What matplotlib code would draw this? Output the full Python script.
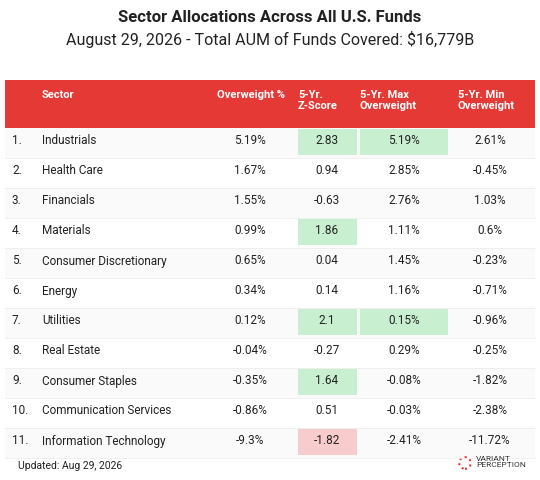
import matplotlib.pyplot as plt
from matplotlib.patches import Rectangle

sectors = ['Industrials', 'Health Care', 'Financials', 'Materials', 'Consumer Discretionary',
           'Energy', 'Utilities', 'Real Estate', 'Consumer Staples', 'Communication Services',
           'Information Technology']
overweight = ['5.19%', '1.67%', '1.55%', '0.99%', '0.65%', '0.34%', '0.12%', '-0.04%', '-0.35%', '-0.86%', '-9.3%']
zscore = ['2.83', '0.94', '-0.63', '1.86', '0.04', '0.14', '2.1', '-0.27', '1.64', '0.51', '-1.82']
max_ow = ['5.19%', '2.85%', '2.76%', '1.11%', '1.45%', '1.16%', '0.15%', '0.29%', '-0.08%', '-0.03%', '-2.41%']
min_ow = ['2.61%', '-0.45%', '1.03%', '0.6%', '-0.23%', '-0.71%', '-0.96%', '-0.25%', '-1.82%', '-2.38%', '-11.72%']
z_high = [0, 3, 6, 8]
z_low = [10]
max_high = [0, 6]

plt.rcParams['font.family'] = ['Roboto', 'DejaVu Sans']
fig = plt.figure(figsize=(5.4, 4.8), dpi=100)
ax = fig.add_axes([0, 0, 1, 1])
ax.set_xlim(0, 540)
ax.set_ylim(480, 0)
ax.axis('off')

ax.text(270, 18, 'Sector Allocations Across All U.S. Funds', ha='center', va='center',
        fontsize=12, fontweight='bold', color='#222222')
ax.text(270, 40, 'August 29, 2026 - Total AUM of Funds Covered: $16,779B', ha='center', va='center',
        fontsize=11.5, color='#222222')

red = '#e53935'
ax.add_patch(Rectangle((5, 80), 530, 48, color=red, lw=0))
hdr = dict(color='white', fontsize=8, fontweight='bold', va='top', linespacing=1.15)
ax.text(42, 90, 'Sector', **hdr)
ax.text(285, 90, 'Overweight %', ha='right', **hdr)
ax.text(298, 90, '5-Yr.\nZ-Score', **hdr)
ax.text(360, 90, '5-Yr. Max\nOverweight', **hdr)
ax.text(458, 90, '5-Yr. Min\nOverweight', **hdr)

top, rh = 128, 30
for i, s in enumerate(sectors):
    y0 = top + i * rh
    yc = y0 + rh / 2 - 2
    if i % 2 == 0:
        ax.add_patch(Rectangle((5, y0), 530, rh, color='#fafafa', lw=0))
    ax.plot([5, 535], [y0 + rh, y0 + rh], color='#eeeeee', lw=0.6)
    if i in z_high:
        ax.add_patch(Rectangle((298, y0 + 1), 59, rh - 4, color='#c8efd0', lw=0))
    if i in z_low:
        ax.add_patch(Rectangle((298, y0 + 1), 59, rh - 4, color='#f8cccc', lw=0))
    if i in max_high:
        ax.add_patch(Rectangle((360, y0 + 1), 88, rh - 4, color='#c8efd0', lw=0))
    kw = dict(fontsize=8.5, color='#222222', va='center')
    ax.text(12, yc, f'{i + 1}.', **kw)
    ax.text(42, yc, s, **kw)
    ax.text(250, yc, overweight[i], ha='center', **kw)
    ax.text(327, yc, zscore[i], ha='center', **kw)
    ax.text(404, yc, max_ow[i], ha='center', **kw)
    ax.text(490, yc, min_ow[i], ha='center', **kw)

ax.text(18, 466, 'Updated: Aug 29, 2026', fontsize=7.5, color='#222222', va='center')
ax.text(476, 462, 'VARIANT\nPERCEPTION', fontsize=6, color='#333333', va='center', linespacing=1.0)
ax.scatter([465], [463], s=70, facecolors='none', edgecolors=red, linewidths=1.5, linestyle=':')

fig.savefig('out.png', dpi=100)
